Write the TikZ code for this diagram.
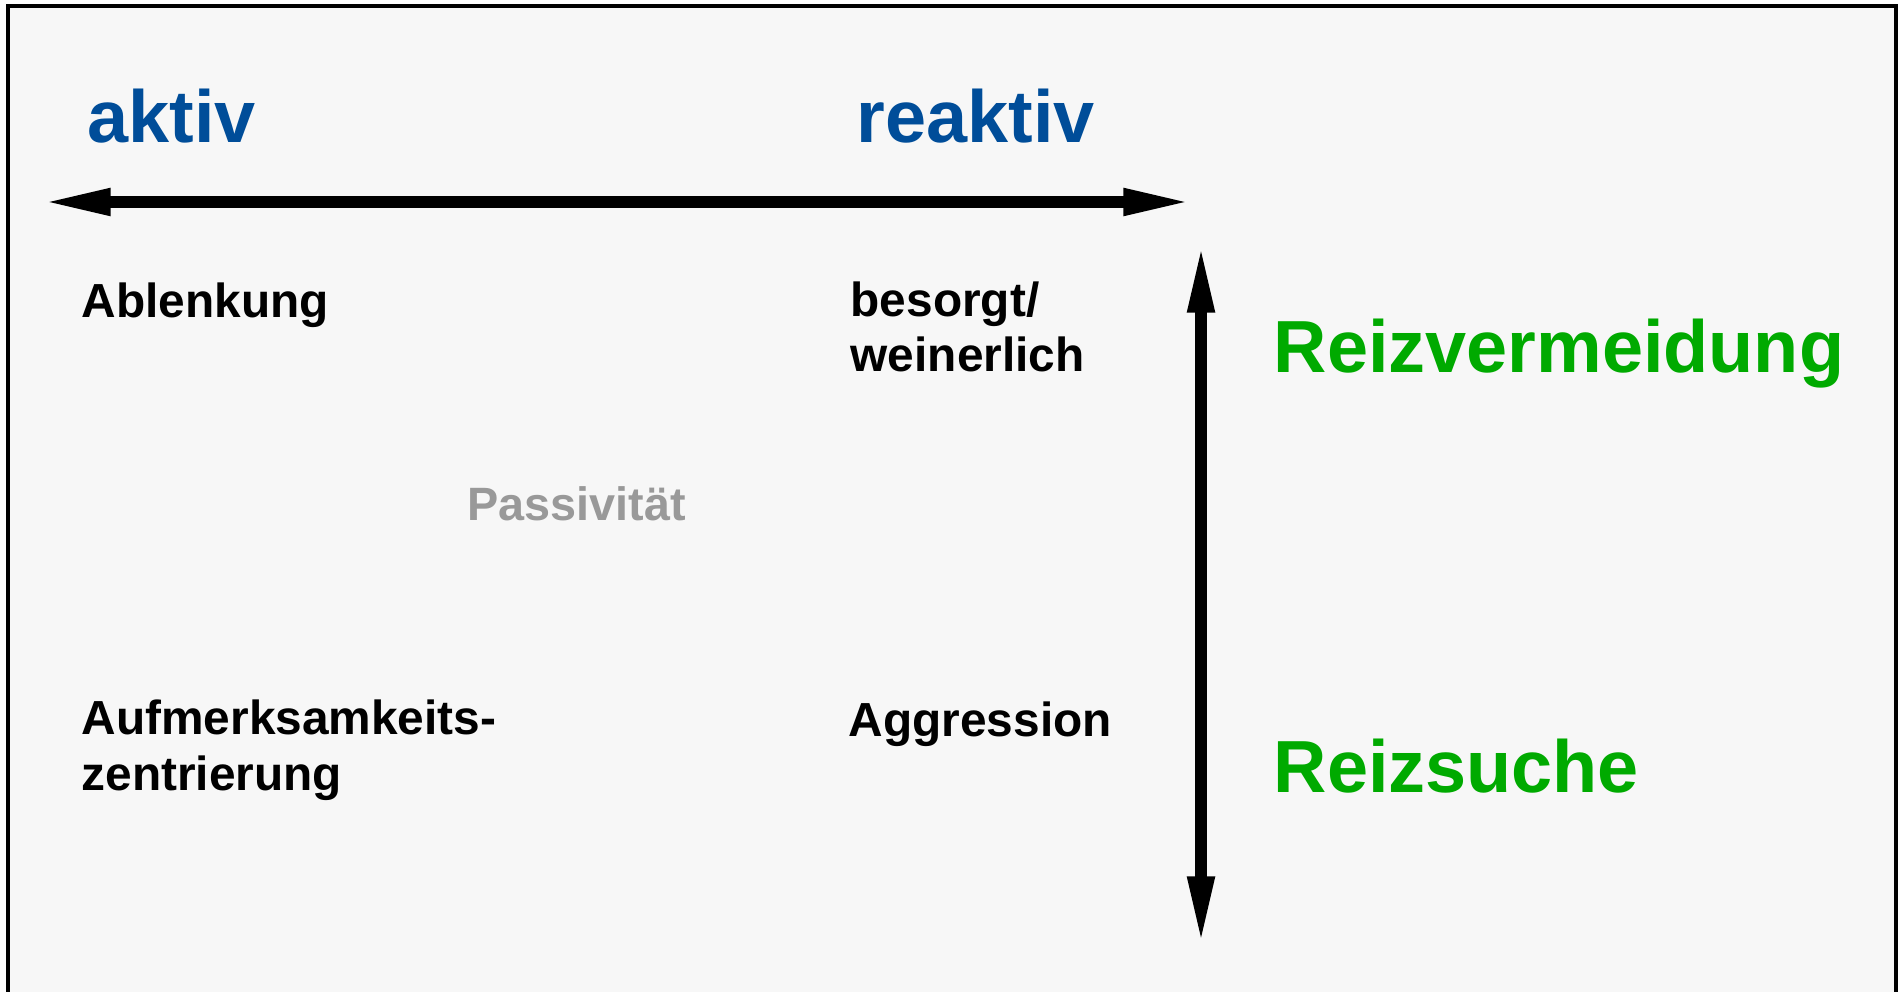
\documentclass[tikz,border=0pt]{standalone}
\usepackage{fontspec}
\setmainfont{Liberation Sans}
\usetikzlibrary{arrows.meta}

\definecolor{hgrund}{RGB}{247,247,247}
\definecolor{blau}{RGB}{0,77,153}
\definecolor{gruen}{RGB}{0,170,0}
\definecolor{grau}{RGB}{153,153,153}

\tikzset{
	titel/.style={anchor=base west, inner sep=0pt, text=blau, font=\fontsize{21pt}{25pt}\selectfont\bfseries},
	pol/.style={anchor=base west, inner sep=0pt, text=gruen, font=\fontsize{21pt}{25pt}\selectfont\bfseries},
	feld/.style={anchor=base west, inner sep=0pt, align=left, font=\fontsize{13.6pt}{15.65pt}\selectfont\bfseries},
	achse/.style={line width=3.3pt, {Triangle[length=19.5pt, width=7pt]}-{Triangle[length=19.5pt, width=7pt]}}
}

\begin{document}
\begin{tikzpicture}[x=0.01cm, y=-0.01cm]

	% Frame
	\useasboundingbox (0, 0) rectangle (1901, 992);
	\draw[line width=1.14pt, fill=hgrund] (8, 6) rectangle (1896, 1040);

	% Headings
	\node[titel] (aktiv) at (87, 143) {aktiv};
	\node[titel] (reaktiv) at (856, 143) {reaktiv};

	% Axes
	\coordinate (links) at (42, 202);
	\coordinate (rechts) at (1192, 202);
	\coordinate (oben) at (1201, 244);
	\coordinate (unten) at (1201, 945);
	\draw[achse] (links) -- (rechts);
	\draw[achse] (oben) -- (unten);

	% Fields (multi-line nodes sit on their last baseline)
	\node[feld] (ablenkung) at (81, 318) {Ablenkung};
	\node[feld] (besorgt) at (850, 372) {besorgt/\\weinerlich};
	\node[feld, text=grau, font=\fontsize{13.3pt}{15.65pt}\selectfont\bfseries] (passiv) at (467, 521) {Passivität};
	\node[feld] (aufmerksam) at (81, 790) {Aufmerksamkeits-\\zentrierung};
	\node[feld] (aggression) at (848, 736) {Aggression};

	% Poles
	\node[pol] (vermeidung) at (1273, 373) {Reizvermeidung};
	\node[pol] (suche) at (1273, 792) {Reizsuche};
\end{tikzpicture}
\end{document}
